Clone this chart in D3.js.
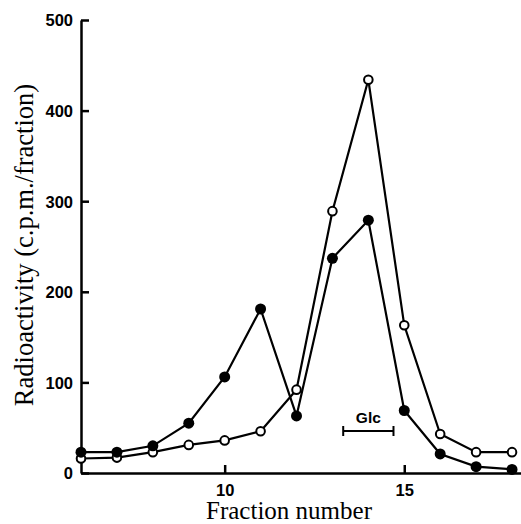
<!DOCTYPE html>
<html>
<head>
<meta charset="utf-8">
<script src="https://cdn.jsdelivr.net/npm/d3@7"></script>
<style>
  body { margin: 0; background: #fff; }
  .tick text { font-family: "Liberation Sans", Arial, sans-serif; font-weight: bold; font-size: 16.5px; }
  .title { font-family: "Liberation Serif", "Times New Roman", serif; }
</style>
</head>
<body>
<div id="container"></div>
<script>
// data
const fractions = [6, 7, 8, 9, 10, 11, 12, 13, 14, 15, 16, 17, 18];
const filledValues = [23, 23, 30, 55, 106, 181, 63, 237, 279, 69, 21, 7, 4];
const openValues = [16, 17, 23, 31, 36, 46, 92, 289, 434, 163, 43, 23, 23];
const xTicks = [10, 15];
const yTicks = [0, 100, 200, 300, 400, 500];
const glcRange = [13.3, 14.7];

const width = 521;
const height = 524;

const svg = d3.select("#container").append("svg")
    .attr("width", width)
    .attr("height", height);

const xScale = d3.scaleLinear().domain([6, 18.25]).range([81, 521]);
const yScale = d3.scaleLinear().domain([0, 500]).range([473, 20]);

// axes
const xaxis = d3.axisBottom(xScale)
    .tickValues(xTicks)
    .tickSize(-8)
    .tickPadding(11)
    .tickSizeOuter(0);

const yaxis = d3.axisLeft(yScale)
    .tickValues(yTicks)
    .tickSize(-8)
    .tickPadding(8)
    .tickSizeOuter(0);

const gx = svg.append("g")
    .attr("transform", "translate(0," + yScale(0) + ")")
    .call(xaxis);
const gy = svg.append("g")
    .attr("transform", "translate(" + xScale(6) + ",0)")
    .call(yaxis);

[gx, gy].forEach(function (g) {
    g.select(".domain").attr("stroke", "#000").attr("stroke-width", 2.5);
    g.selectAll(".tick line").attr("stroke", "#000").attr("stroke-width", 2.5);
    g.selectAll(".tick text").attr("fill", "#000");
});
gy.selectAll(".tick text").attr("dy", "0.36em");

// axis titles
svg.append("text")
    .attr("class", "title")
    .attr("x", 289)
    .attr("y", 519)
    .attr("text-anchor", "middle")
    .style("font-size", "25px")
    .text("Fraction number");

svg.append("text")
    .attr("class", "title")
    .attr("transform", "translate(33,245) rotate(-90)")
    .attr("text-anchor", "middle")
    .style("font-size", "26.5px")
    .text("Radioactivity (c.p.m./fraction)");

// lines
const line = d3.line()
    .x(function (d) { return xScale(d.f); })
    .y(function (d) { return yScale(d.v); });

const series = [
    { id: "open", values: fractions.map(function (f, i) { return { f: f, v: openValues[i] }; }) },
    { id: "filled", values: fractions.map(function (f, i) { return { f: f, v: filledValues[i] }; }) }
];

svg.selectAll(".serie")
    .data(series)
    .enter()
    .append("path")
    .attr("fill", "none")
    .attr("stroke", "#000")
    .attr("stroke-width", 2.2)
    .attr("d", function (d) { return line(d.values); });

series.forEach(function (s) {
    svg.selectAll(".pt-" + s.id)
        .data(s.values)
        .enter()
        .append("circle")
        .attr("cx", function (d) { return xScale(d.f); })
        .attr("cy", function (d) { return yScale(d.v); })
        .attr("r", s.id === "open" ? 4.3 : 5.5)
        .attr("fill", s.id === "open" ? "#fff" : "#000")
        .attr("stroke", "#000")
        .attr("stroke-width", s.id === "open" ? 2 : 0);
});

// Glc marker
const glcY = 431;
svg.append("line")
    .attr("x1", xScale(glcRange[0])).attr("x2", xScale(glcRange[1]))
    .attr("y1", glcY).attr("y2", glcY)
    .attr("stroke", "#000").attr("stroke-width", 2);
glcRange.forEach(function (g) {
    svg.append("line")
        .attr("x1", xScale(g)).attr("x2", xScale(g))
        .attr("y1", glcY - 5).attr("y2", glcY + 5)
        .attr("stroke", "#000").attr("stroke-width", 2);
});
svg.append("text")
    .attr("x", xScale((glcRange[0] + glcRange[1]) / 2))
    .attr("y", 423)
    .attr("text-anchor", "middle")
    .style("font-family", "Liberation Sans, Arial, sans-serif")
    .style("font-weight", "bold")
    .style("font-size", "15.5px")
    .text("Glc");
</script>
</body>
</html>
